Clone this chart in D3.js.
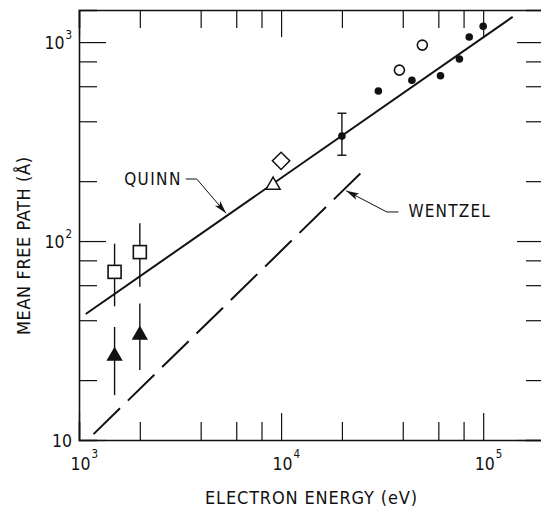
<!DOCTYPE html>
<html>
<head>
<meta charset="utf-8">
<script src="https://cdn.jsdelivr.net/npm/d3@7"></script>
<style>
    body { margin: 0; background: #fff; }
    text { font-family: "Liberation Sans Narrow", "DejaVu Sans Condensed", sans-serif; fill: #111; }
</style>
</head>
<body>
<script>
(function () {

    var w = 541;
    var h = 508;

    // axis ticks
    var xMajor = [1e3, 1e4, 1e5];
    var xMinor = [2e3, 4e3, 6e3, 8e3, 2e4, 4e4, 6e4, 8e4];
    var xLabelSup = ["3", "4", "5"];
    var yMajor = [10, 100, 1000];
    var yMinor = [20, 40, 60, 80, 200, 400, 600, 800];
    var yLabelSup = ["", "2", "3"];

    // theory curves (eV, Angstrom)
    var quinnE = [1080, 140000];
    var quinnL = [43, 1340];
    var wentzelE = [1180, 25400];
    var wentzelL = [10.7, 225];

    // open squares with error bars
    var sqE = [1500, 2000];
    var sqL = [70, 88];
    var sqLo = [47, 59];
    var sqHi = [97, 123];

    // filled triangles with error bars
    var triE = [1500, 2000];
    var triL = [26.4, 33.7];
    var triLo = [16.8, 22.5];
    var triHi = [37, 48.6];

    // single points
    var openTriE = [9130], openTriL = [191];
    var diamondE = [10000], diamondL = [253];
    var errDotE = [20000], errDotL = [337], errDotLo = [270], errDotHi = [439];

    // filled and open circles
    var dotE = [30300, 44400, 61500, 76300, 85300, 100000];
    var dotL = [568, 643, 677, 822, 1060, 1200];
    var circE = [38500, 50000];
    var circL = [723, 966];

    // label leaders: [E, L] points, last one is the arrow tip
    var quinnLeader = [[3375, 205], [3825, 205], [5340, 138]];
    var wentzelLeader = [[38080, 140], [33370, 140], [20980, 179]];

    var x = d3.scaleLog().domain([1e3, 2e5]).range([79, 544]);
    var y = d3.scaleLog().domain([10, 1450]).range([440, 10]);

    var svg = d3.select("body").append("svg")
        .attr("width", w)
        .attr("height", h);

    svg.append("defs").append("marker")
        .attr("id", "ah")
        .attr("markerUnits", "userSpaceOnUse")
        .attr("markerWidth", 14).attr("markerHeight", 8)
        .attr("refX", 13).attr("refY", 3.5)
        .attr("orient", "auto")
        .append("path")
        .attr("d", "M0,0 L13,3.5 L0,7 L3,3.5 Z")
        .attr("fill", "#111");

    function drawAxis(axis, tr, majors, minors, attr, sign) {
        var g = svg.append("g").attr("transform", tr)
            .call(axis.tickValues(majors.concat(minors))
                .tickFormat("").tickSizeOuter(0).tickSize(-18));
        g.selectAll(".tick line")
            .attr(attr, function (d) { return sign * (majors.indexOf(d) >= 0 ? 27 : 18); })
            .attr("stroke", "#111").attr("stroke-width", 1.2);
        g.select(".domain").attr("stroke", "#111").attr("stroke-width", 1.6);
        g.selectAll(".tick text").remove();
    }

    drawAxis(d3.axisBottom(x), "translate(0,440)", xMajor, xMinor, "y2", -1);
    drawAxis(d3.axisTop(x), "translate(0,10)", xMajor, xMinor, "y2", 1);
    drawAxis(d3.axisLeft(y), "translate(79,0)", yMajor, yMinor, "x2", 1);
    drawAxis(d3.axisRight(y), "translate(544,0)", yMajor, yMinor, "x2", -1);

    // tick labels
    yMajor.forEach(function (v, i) {
        var t = svg.append("text")
            .attr("x", 72).attr("y", y(v) + 7)
            .attr("text-anchor", "end")
            .attr("font-size", 17.5);
        t.append("tspan").text("10");
        if (yLabelSup[i]) {
            t.append("tspan").attr("dy", -10).attr("dx", 1).attr("font-size", 11.5).text(yLabelSup[i]);
        }
    });
    xMajor.forEach(function (v, i) {
        var t = svg.append("text")
            .attr("x", x(v) - 8.5).attr("y", 470)
            .attr("font-size", 17.5);
        t.append("tspan").text("10");
        t.append("tspan").attr("dy", -12).attr("dx", 1).attr("font-size", 11.5).text(xLabelSup[i]);
    });

    // axis titles
    svg.append("text")
        .attr("x", 311).attr("y", 504)
        .attr("text-anchor", "middle")
        .attr("font-size", 18)
        .attr("textLength", 212).attr("lengthAdjust", "spacing")
        .text("ELECTRON ENERGY (eV)");

    svg.append("text")
        .attr("transform", "translate(30,246) rotate(-90)")
        .attr("text-anchor", "middle")
        .attr("font-size", 18)
        .attr("textLength", 178).attr("lengthAdjust", "spacing")
        .text("MEAN FREE PATH (Å)");

    // theory lines
    var line = d3.line()
        .x(function (d) { return x(d[0]); })
        .y(function (d) { return y(d[1]); });

    svg.append("path")
        .attr("d", line(d3.zip(quinnE, quinnL)))
        .attr("fill", "none").attr("stroke", "#111").attr("stroke-width", 2);

    svg.append("path")
        .attr("d", line(d3.zip(wentzelE, wentzelL)))
        .attr("fill", "none").attr("stroke", "#111").attr("stroke-width", 2)
        .attr("stroke-dasharray", "37,11");

    // leaders
    [quinnLeader, wentzelLeader].forEach(function (pts) {
        svg.append("path")
            .attr("d", line(pts))
            .attr("fill", "none").attr("stroke", "#111").attr("stroke-width", 1)
            .attr("marker-end", "url(#ah)");
    });

    svg.append("text")
        .attr("x", x(quinnLeader[0][0]) - 4).attr("y", y(quinnLeader[0][1]) + 6)
        .attr("text-anchor", "end")
        .attr("font-size", 17)
        .attr("letter-spacing", 1.4)
        .text("QUINN");

    svg.append("text")
        .attr("x", x(wentzelLeader[0][0]) + 10).attr("y", y(wentzelLeader[0][1]) + 5)
        .attr("font-size", 17)
        .attr("letter-spacing", 1.2)
        .text("WENTZEL");

    // error bars
    function errBars(E, lo, hi, cap) {
        E.forEach(function (e, i) {
            svg.append("line")
                .attr("x1", x(e)).attr("x2", x(e))
                .attr("y1", y(lo[i])).attr("y2", y(hi[i]))
                .attr("stroke", "#111").attr("stroke-width", 1.4);
            if (cap) {
                [lo[i], hi[i]].forEach(function (v) {
                    svg.append("line")
                        .attr("x1", x(e) - cap).attr("x2", x(e) + cap)
                        .attr("y1", y(v)).attr("y2", y(v))
                        .attr("stroke", "#111").attr("stroke-width", 1.4);
                });
            }
        });
    }

    errBars(sqE, sqLo, sqHi, 0);
    errBars(triE, triLo, triHi, 0);
    errBars(errDotE, errDotLo, errDotHi, 4.5);

    // open squares
    svg.selectAll("rect.sq")
        .data(d3.zip(sqE, sqL))
        .enter().append("rect")
        .attr("class", "sq")
        .attr("x", function (d) { return x(d[0]) - 6.5; })
        .attr("y", function (d) { return y(d[1]) - 6.5; })
        .attr("width", 13).attr("height", 13)
        .attr("fill", "#fff").attr("stroke", "#111").attr("stroke-width", 1.6);

    // filled triangles
    svg.selectAll("path.tri")
        .data(d3.zip(triE, triL))
        .enter().append("path")
        .attr("class", "tri")
        .attr("d", d3.symbol(d3.symbolTriangle, 115))
        .attr("transform", function (d) { return "translate(" + x(d[0]) + "," + y(d[1]) + ")"; })
        .attr("fill", "#111");

    // open triangle
    svg.selectAll("path.otri")
        .data(d3.zip(openTriE, openTriL))
        .enter().append("path")
        .attr("class", "otri")
        .attr("d", d3.symbol(d3.symbolTriangle, 85))
        .attr("transform", function (d) { return "translate(" + x(d[0]) + "," + y(d[1]) + ")"; })
        .attr("fill", "#fff").attr("stroke", "#111").attr("stroke-width", 1.5);

    // open diamond
    svg.selectAll("path.dia")
        .data(d3.zip(diamondE, diamondL))
        .enter().append("path")
        .attr("class", "dia")
        .attr("d", d3.symbol(d3.symbolSquare, 150))
        .attr("transform", function (d) { return "translate(" + x(d[0]) + "," + y(d[1]) + ") rotate(45)"; })
        .attr("fill", "#fff").attr("stroke", "#111").attr("stroke-width", 1.5);

    // filled dots
    svg.selectAll("circle.dot")
        .data(d3.zip(dotE.concat(errDotE), dotL.concat(errDotL)))
        .enter().append("circle")
        .attr("class", "dot")
        .attr("cx", function (d) { return x(d[0]); })
        .attr("cy", function (d) { return y(d[1]); })
        .attr("r", 3.8)
        .attr("fill", "#111");

    // open circles
    svg.selectAll("circle.oc")
        .data(d3.zip(circE, circL))
        .enter().append("circle")
        .attr("class", "oc")
        .attr("cx", function (d) { return x(d[0]); })
        .attr("cy", function (d) { return y(d[1]); })
        .attr("r", 5)
        .attr("fill", "#fff").attr("stroke", "#111").attr("stroke-width", 1.6);
})();
</script>
</body>
</html>
